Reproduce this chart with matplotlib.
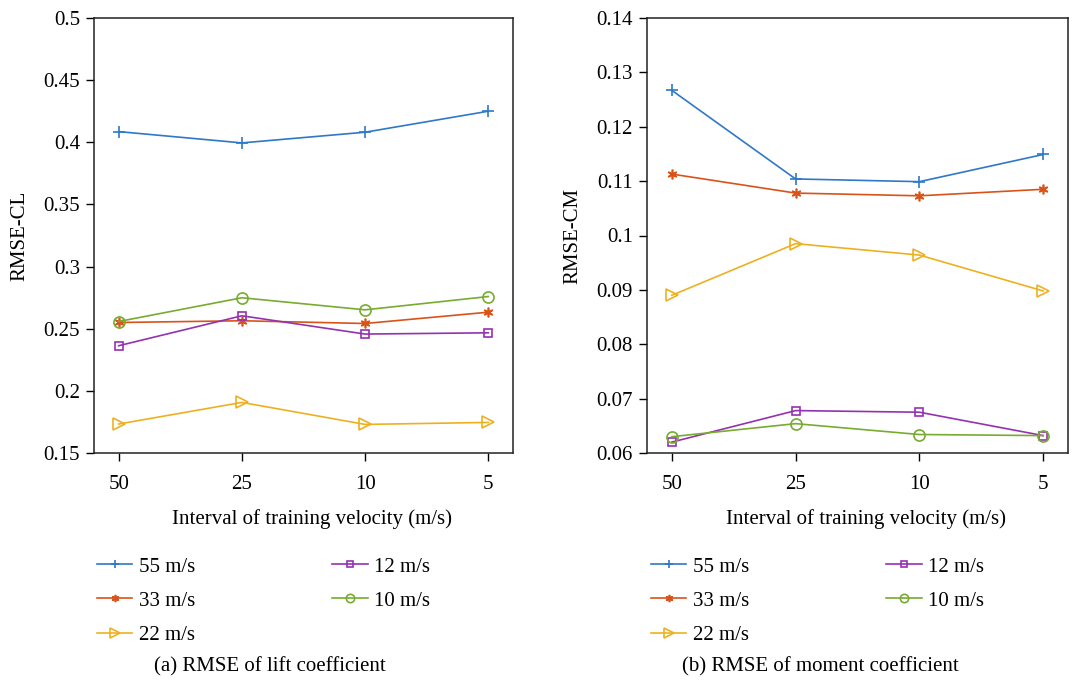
import matplotlib
matplotlib.use("Agg")
import matplotlib.pyplot as plt
import numpy as np

plt.rcParams['font.family'] = ['Liberation Serif', 'DejaVu Serif']

# x 轴: 训练速度间隔
intervals = ['50', '25', '10', '5']
speeds = ['55 m/s', '33 m/s', '22 m/s', '12 m/s', '10 m/s']

# RMSE of CL
cl_55 = [0.4086, 0.3995, 0.4081, 0.4250]
cl_33 = [0.2550, 0.2564, 0.2542, 0.2633]
cl_22 = [0.1733, 0.1907, 0.1730, 0.1746]
cl_12 = [0.2363, 0.2604, 0.2457, 0.2467]
cl_10 = [0.2558, 0.2749, 0.2652, 0.2759]

# RMSE of CM
cm_55 = [0.1267, 0.1104, 0.1099, 0.1149]
cm_33 = [0.1113, 0.1078, 0.1073, 0.1085]
cm_22 = [0.0890, 0.0985, 0.0964, 0.0898]
cm_12 = [0.0620, 0.0678, 0.0675, 0.0632]
cm_10 = [0.0630, 0.0654, 0.0634, 0.0632]

colors = ['#2F78C8', '#D95319', '#EDB120', '#9531B0', '#77AC30']
markers = ['+', (6, 2, 0), '>', 's', 'o']
msizes = [8, 7, 9, 6, 8]

fig = plt.figure(figsize=(10.8, 6.84), dpi=100)
ax1 = fig.add_axes([94/1080, 1-453/684, 419/1080, 435/684])
ax2 = fig.add_axes([647/1080, 1-453/684, 421/1080, 435/684])

def draw(ax, series, ylim, yticks, ylabel, leg_x, caption, cap_x):
    x = np.arange(len(intervals))
    lines = []
    for s, c, m, ms, lab in zip(series, colors, markers, msizes, speeds):
        ln, = ax.plot(x, s, color=c, marker=m, markersize=ms, markerfacecolor='none',
                      markeredgecolor=c, markeredgewidth=1.2, linewidth=1.2, label=lab)
        lines.append(ln)
    ax.set_xlim(-0.2, 3.2)
    ax.set_ylim(ylim)
    ax.set_xticks(x)
    ax.set_xticklabels(intervals)
    ax.set_yticks(yticks)
    ax.set_yticklabels(['%g' % t for t in yticks])
    ax.tick_params(direction='out', length=6, width=1, labelsize=15, pad=4,
                   top=False, right=False)
    ax.tick_params(axis='x', pad=10)
    for sp in ax.spines.values():
        sp.set_linewidth(1.1)
        sp.set_color('#222222')
    ax.set_xlabel('Interval of training velocity (m/s)', fontsize=15)
    ax.xaxis.set_label_coords(0.52, -0.128)
    ax.set_ylabel(ylabel, fontsize=15, labelpad=10)
    fig.legend(handles=lines, loc='upper left', bbox_to_anchor=(leg_x, 1-557/684),
               ncol=2, frameon=False, fontsize=15, handlelength=1.7, handletextpad=0.3,
               columnspacing=6.6, labelspacing=0.7, borderaxespad=0, borderpad=0,
               markerscale=0.75)
    fig.text(cap_x, 1-667/684, caption, fontsize=15, ha='center', va='center')

draw(ax1, [cl_55, cl_33, cl_22, cl_12, cl_10], (0.15, 0.5),
     [0.15, 0.2, 0.25, 0.3, 0.35, 0.4, 0.45, 0.5], 'RMSE-CL', 97/1080,
     '(a) RMSE of lift coefficient', 270/1080)
draw(ax2, [cm_55, cm_33, cm_22, cm_12, cm_10], (0.06, 0.14),
     [0.06, 0.07, 0.08, 0.09, 0.1, 0.11, 0.12, 0.13, 0.14], 'RMSE-CM', 651/1080,
     '(b) RMSE of moment coefficient', 820/1080)

fig.savefig('out.png', dpi=100)
